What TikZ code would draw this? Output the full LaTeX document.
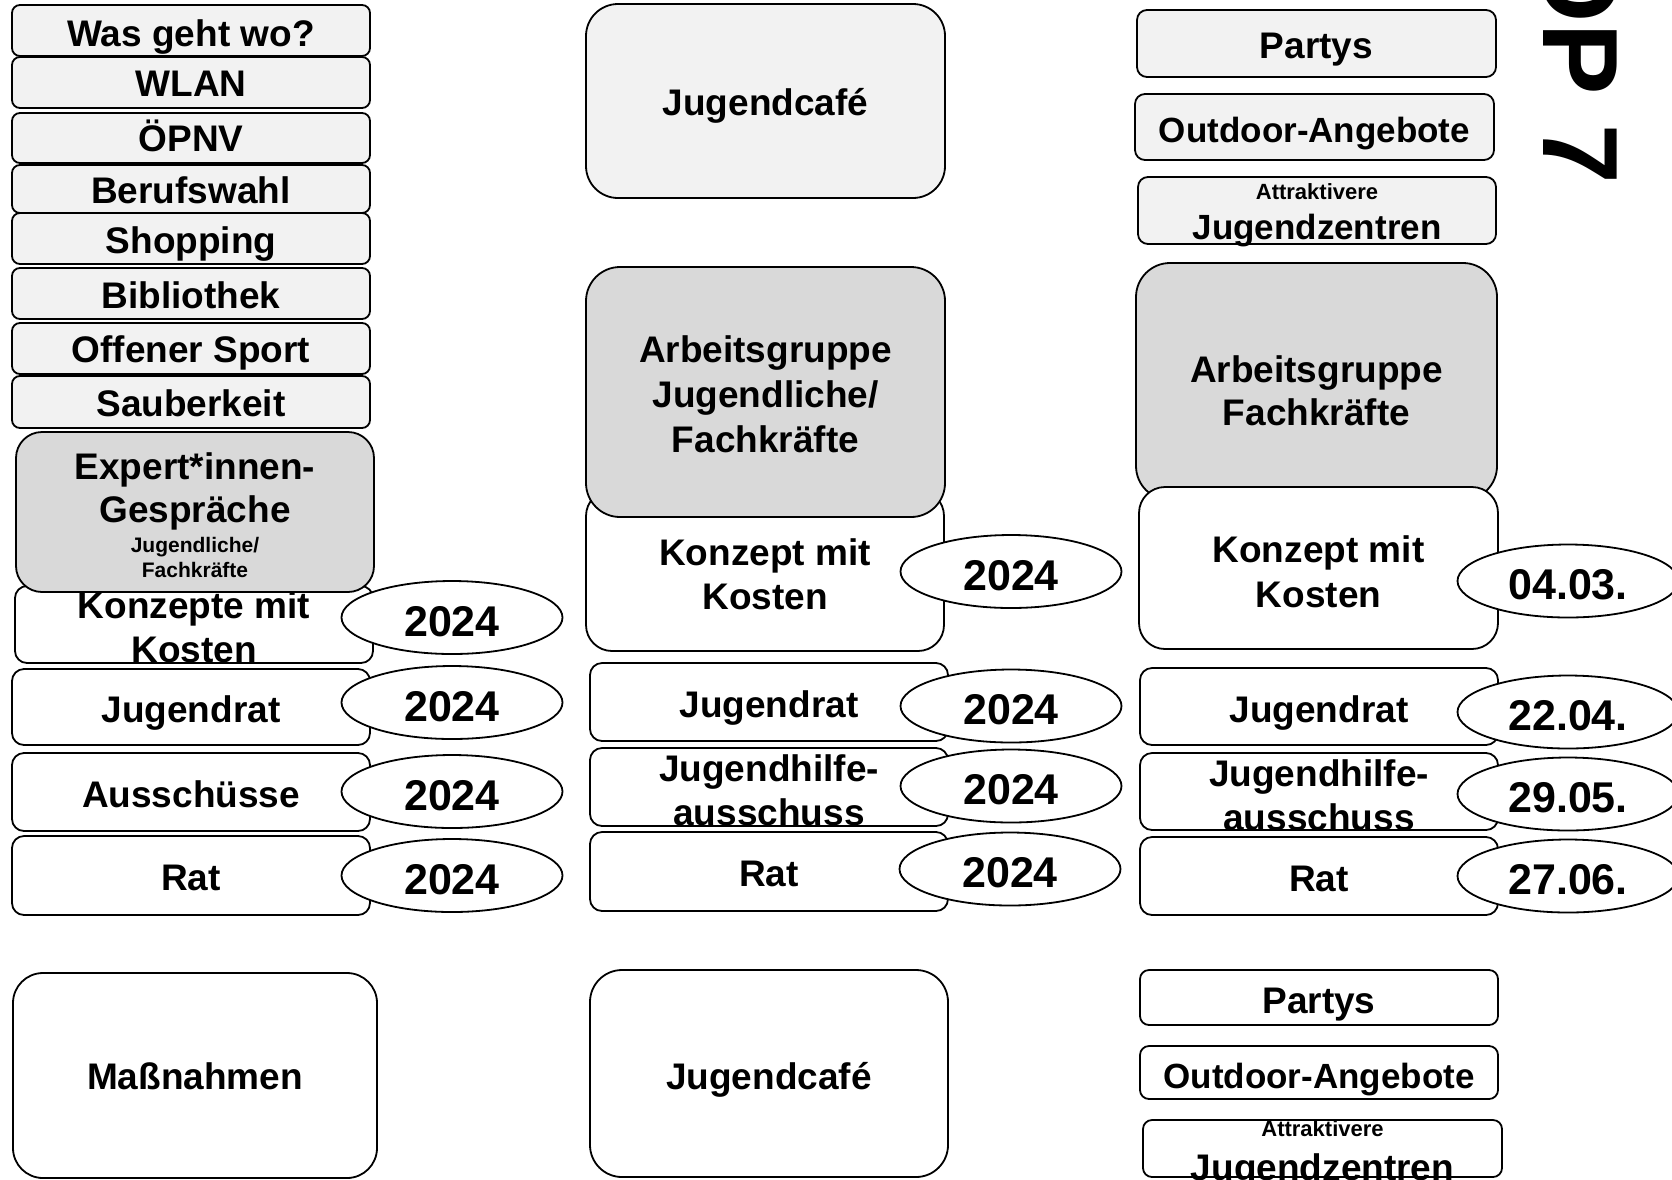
\documentclass[tikz,border=0pt]{standalone}
\usepackage{fontspec}
\setmainfont{Liberation Sans}
\usetikzlibrary{shapes.geometric}
\definecolor{lgray}{HTML}{F2F2F2}
\definecolor{mgray}{HTML}{D9D9D9}
\tikzset{
  bx/.style={draw=black, line width=1.8pt, rectangle, inner sep=0pt},
  el/.style={draw=black, line width=1.8pt, ellipse, fill=white, inner sep=0pt,
             minimum width=221pt, minimum height=73pt, text height=37pt, text depth=0pt,
             font=\fontsize{43}{50}\selectfont\bfseries},
  tx/.style={anchor=base, inner sep=0pt, font=\fontsize{37}{44}\selectfont\bfseries},
  tn/.style={anchor=base, inner sep=0pt, font=\fontsize{35}{42}\selectfont\bfseries},
  sm/.style={anchor=base, inner sep=0pt, font=\fontsize{21}{25}\selectfont\bfseries},
  sa/.style={anchor=base, inner sep=0pt, font=\fontsize{22}{26}\selectfont\bfseries},
}
% name, x1, y1, x2, y2, fill, radius
\newcommand\mkbox[7]{\node[bx,fill=#6,rounded corners=#7pt,
  minimum width={(#4-#2)*1pt},minimum height={(#5-#3)*1pt}] (#1) at ({(#2+#4)/2},{(#3+#5)/2}) {};}
\begin{document}
\begin{tikzpicture}[x=1pt,y=-1pt]
\useasboundingbox (0,0) rectangle (1672,1179);
\clip (0,0) rectangle (1672,1179);
\fill[white] (0,0) rectangle (1672,1179);

% ---------------- left column ----------------
\mkbox{l1}{12}{5}{370}{56}{lgray}{8}
\node[tx] (l1t) at (191,46) {Was geht wo?};
\mkbox{l2}{12}{57}{370}{108}{lgray}{8}
\node[tx] (l2t) at (191,96) {WLAN};
\mkbox{l3}{12}{113}{370}{163}{lgray}{8}
\node[tx] (l3t) at (191,151) {ÖPNV};
\mkbox{l4}{12}{165}{370}{213}{lgray}{8}
\node[tx] (l4t) at (191,203) {Berufswahl};
\mkbox{l5}{12}{213}{370}{264}{lgray}{8}
\node[tx] (l5t) at (191,253) {Shopping};
\mkbox{l6}{12}{268}{370}{319}{lgray}{8}
\node[tx] (l6t) at (191,308) {Bibliothek};
\mkbox{l7}{12}{323}{370}{374}{lgray}{8}
\node[tx] (l7t) at (191,362) {Offener Sport};
\mkbox{l8}{12}{376}{370}{428}{lgray}{8}
\node[tx] (l8t) at (191,416) {Sauberkeit};

\mkbox{l10}{15}{586}{373}{663}{white}{12}
\node[tx] (l10a) at (194,618) {Konzepte mit};
\node[tx] (l10b) at (194,662) {Kosten};

\mkbox{l9}{16}{432}{374}{592}{mgray}{26}
\node[tx] (l9a) at (195,479) {Expert*innen-};
\node[tx] (l9b) at (195,522) {Gespräche};
\node[sm] (l9c) at (195,552) {Jugendliche/};
\node[sm] (l9d) at (195,577) {Fachkräfte};

\mkbox{l11}{12}{669}{370}{745}{white}{12}
\node[tx] (l11t) at (191,722) {Jugendrat};
\mkbox{l12}{12}{753}{370}{831}{white}{12}
\node[tx] (l12t) at (191,807) {Ausschüsse};
\mkbox{l13}{12}{836}{370}{915}{white}{12}
\node[tx] (l13t) at (191,890) {Rat};

\node[el] (le1) at (452,617.5) {2024};
\node[el] (le2) at (452,702.5) {2024};
\node[el] (le3) at (452,791.5) {2024};
\node[el] (le4) at (452,875.5) {2024};

\mkbox{l14}{13}{973}{377}{1178}{white}{30}
\node[tx] (l14t) at (195,1089) {Maßnahmen};

% ---------------- middle column ----------------
\mkbox{m1}{586}{4}{945}{198}{lgray}{32}
\node[tx] (m1t) at (765.5,115) {Jugendcafé};

\mkbox{m3}{586}{490}{944}{651}{white}{26}
\node[tx] (m3a) at (765,565) {Konzept mit};
\node[tx] (m3b) at (765,609) {Kosten};

\mkbox{m2}{586}{267}{945}{517}{mgray}{34}
\node[tx] (m2a) at (765.5,362) {Arbeitsgruppe};
\node[tx] (m2b) at (765.5,407) {Jugendliche/};
\node[tx] (m2c) at (765.5,452) {Fachkräfte};

\mkbox{m4}{590}{663}{948}{741}{white}{12}
\node[tx] (m4t) at (769,717) {Jugendrat};
\mkbox{m5}{590}{748}{948}{826}{white}{12}
\node[tx] (m5a) at (769,781) {Jugendhilfe-};
\node[tx] (m5b) at (769,825) {ausschuss};
\mkbox{m6}{590}{832}{948}{911}{white}{12}
\node[tx] (m6t) at (769,886) {Rat};

\node[el] (me1) at (1011,571.5) {2024};
\node[el] (me2) at (1011,706) {2024};
\node[el] (me3) at (1011,786) {2024};
\node[el] (me4) at (1010,869) {2024};

\mkbox{m7}{590}{970}{948}{1177}{white}{32}
\node[tx] (m7t) at (769,1089) {Jugendcafé};

% ---------------- right column ----------------
\mkbox{r1}{1137}{10}{1496}{77}{lgray}{10}
\node[tx] (r1t) at (1316.5,58) {Partys};
\mkbox{r2}{1135}{94}{1494}{160}{lgray}{10}
\node[tn] (r2t) at (1314.5,142) {Outdoor-Angebote};
\mkbox{r3}{1138}{177}{1496}{244}{lgray}{10}
\node[sa] (r3a) at (1317,199) {Attraktivere};
\node[tn] (r3b) at (1317,239) {Jugendzentren};

\mkbox{r4}{1136}{263}{1497}{500}{mgray}{34}
\node[tx] (r4a) at (1316.5,382) {Arbeitsgruppe};
\node[tx] (r4b) at (1316.5,425) {Fachkräfte};

\mkbox{r5}{1139}{487}{1498}{649}{white}{26}
\node[tx] (r5a) at (1318.5,562) {Konzept mit};
\node[tx] (r5b) at (1318.5,607) {Kosten};

\mkbox{r6}{1140}{668}{1498}{745}{white}{12}
\node[tx] (r6t) at (1319,722) {Jugendrat};
\mkbox{r7}{1140}{753}{1498}{830}{white}{12}
\node[tx] (r7a) at (1319,786) {Jugendhilfe-};
\node[tx] (r7b) at (1319,830) {ausschuss};
\mkbox{r8}{1140}{837}{1498}{915}{white}{12}
\node[tx] (r8t) at (1319,891) {Rat};

\node[el] (re1) at (1568,581) {04.03.};
\node[el] (re2) at (1568,712) {22.04.};
\node[el] (re3) at (1568,794) {29.05.};
\node[el] (re4) at (1568,876) {27.06.};

\mkbox{r9}{1140}{970}{1498}{1025}{white}{9}
\node[tx] (r9t) at (1319,1013) {Partys};
\mkbox{r10}{1140}{1046}{1498}{1099}{white}{9}
\node[tn] (r10t) at (1319,1088) {Outdoor-Angebote};
\mkbox{r11}{1143}{1120}{1502}{1177}{white}{9}
\node[sa] (r11a) at (1322.5,1136) {Attraktivere};
\node[tx] (r11b) at (1322.5,1180) {Jugendzentren};

% ---------------- rotated title ----------------
\node[rotate=-90, anchor=base east, inner sep=0pt,
      font=\fontsize{107}{107}\selectfont\bfseries] (title) at (1543,184) {TOP 7};
\end{tikzpicture}
\end{document}
